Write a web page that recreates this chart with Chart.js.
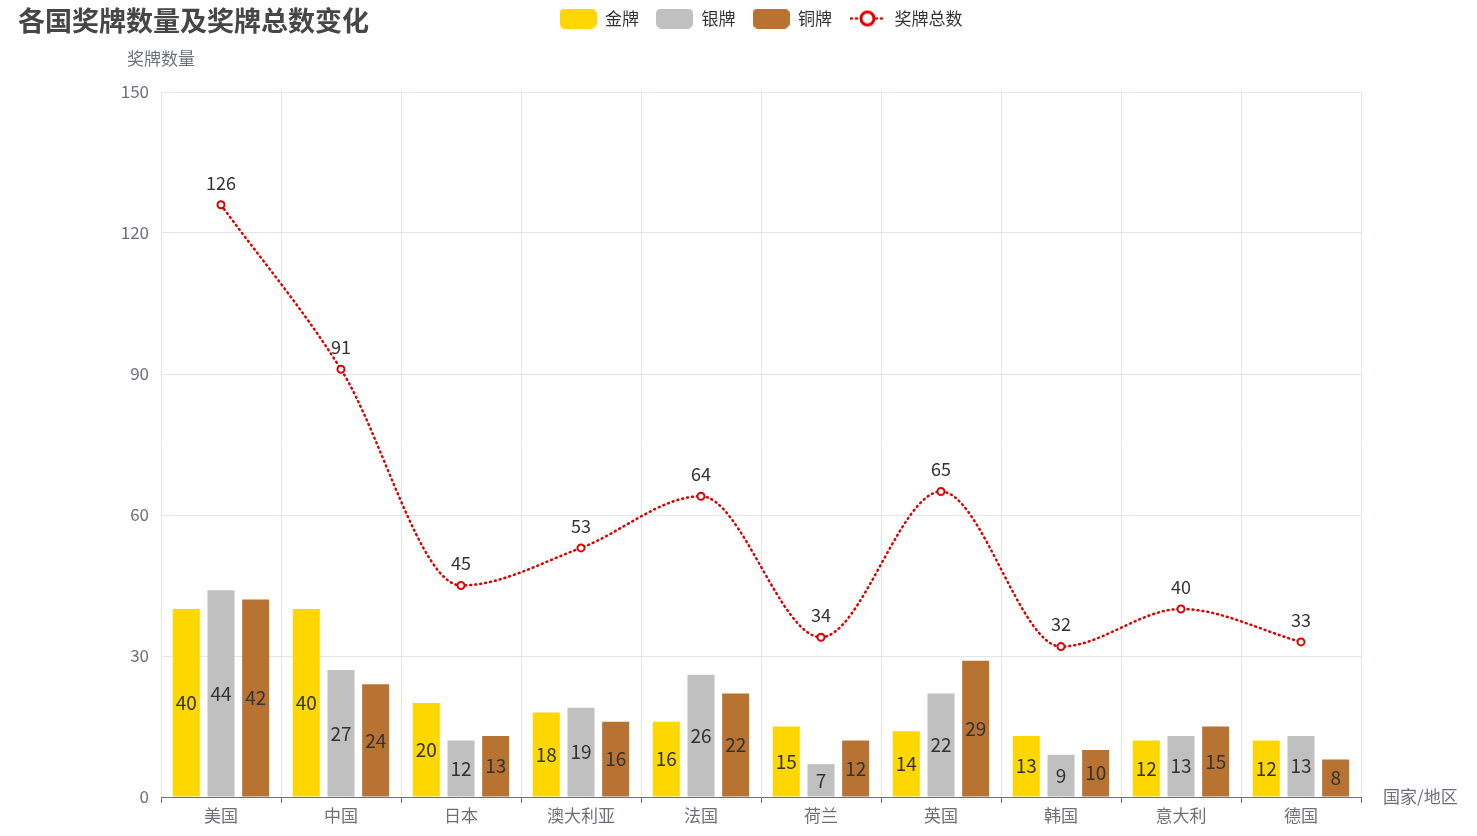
<!DOCTYPE html>
<html>
<head>
<meta charset="utf-8">
<script src="https://cdn.jsdelivr.net/npm/chart.js@4.4.1/dist/chart.umd.min.js"></script>
<style>
  html, body { margin: 0; padding: 0; background: #fff; }
  #wrap { width: 1477px; height: 836px; }
</style>
</head>
<body>
<div id="wrap"><canvas id="medalChart" width="1477" height="836"></canvas></div>
<script>
// 数据
const countries = ['美国', '中国', '日本', '澳大利亚', '法国', '荷兰', '英国', '韩国', '意大利', '德国'];
const goldMedals = [40, 40, 20, 18, 16, 15, 14, 13, 12, 12];
const silverMedals = [44, 27, 12, 19, 26, 7, 22, 9, 13, 13];
const bronzeMedals = [42, 24, 13, 16, 22, 12, 29, 10, 15, 8];
const totalMedals = [126, 91, 45, 53, 64, 34, 65, 32, 40, 33];
const yMax = 150;
const yStep = 30;

const FONT = '"Noto Sans CJK SC", "Noto Sans", sans-serif';
const GOLD = '#FFD700';
const SILVER = '#C0C0C0';
const BRONZE = '#B87333';
const RED = '#DD0000';
const AXIS_GRAY = '#6E7079';

// 图例小图标
function swatch(color) {
    const c = document.createElement('canvas');
    c.width = 37; c.height = 20;
    const g = c.getContext('2d');
    g.fillStyle = color;
    g.beginPath();
    g.roundRect(0, 0, 37, 20, 5);
    g.fill();
    return c;
}

function lineIcon() {
    const c = document.createElement('canvas');
    c.width = 37; c.height = 20;
    const g = c.getContext('2d');
    g.strokeStyle = RED;
    g.lineWidth = 2.5;
    g.lineCap = 'round';
    g.setLineDash([1, 4]);
    g.beginPath();
    g.moveTo(2, 10); g.lineTo(35, 10);
    g.stroke();
    g.setLineDash([]);
    g.fillStyle = '#fff';
    g.lineWidth = 3;
    g.beginPath();
    g.arc(18.5, 10, 6.5, 0, Math.PI * 2);
    g.fill(); g.stroke();
    return c;
}

const legendIcons = [swatch(GOLD), swatch(SILVER), swatch(BRONZE), lineIcon()];

// 数值标签和坐标轴名称
const labelPlugin = {
    id: 'medalLabels',
    afterLayout(chart) {
        // 图例放到最上面，和标题同一行
        const lg = chart.legend;
        const h = lg.bottom - lg.top;
        lg.top = -7;
        lg.bottom = lg.top + h;
    },
    afterDatasetsDraw(chart) {
        const ctx = chart.ctx;
        ctx.save();
        ctx.fillStyle = '#333';
        ctx.textAlign = 'center';
        ctx.textBaseline = 'middle';
        chart.data.datasets.forEach((ds, i) => {
            const meta = chart.getDatasetMeta(i);
            meta.data.forEach((el, j) => {
                const v = ds.data[j];
                if (ds.type === 'line') {
                    ctx.font = '18px ' + FONT;
                    ctx.fillText(v, el.x, el.y - 22);
                } else {
                    ctx.font = '19px ' + FONT;
                    ctx.fillText(v, el.x, (el.y + el.base) / 2);
                }
            });
        });
        ctx.restore();
    },
    afterDraw(chart) {
        const ctx = chart.ctx;
        const area = chart.chartArea;
        ctx.save();
        ctx.fillStyle = '#464646';
        ctx.font = 'bold 27px ' + FONT;
        ctx.textAlign = 'left';
        ctx.textBaseline = 'middle';
        ctx.fillText('各国奖牌数量及奖牌总数变化', 18, 21);

        ctx.fillStyle = AXIS_GRAY;
        ctx.font = '17px ' + FONT;
        ctx.textAlign = 'center';
        ctx.fillText('奖牌数量', area.left, 59);
        ctx.textAlign = 'left';
        ctx.fillText('国家/地区', area.right + 22, area.bottom);
        ctx.restore();
    }
};

const ctx = document.getElementById('medalChart').getContext('2d');
window.medalChart = new Chart(ctx, {
    data: {
        labels: countries,
        datasets: [
            {
                type: 'line',
                label: '奖牌总数',
                data: totalMedals,
                order: 0,
                borderColor: RED,
                borderWidth: 2.5,
                borderDash: [1, 4],
                borderCapStyle: 'round',
                cubicInterpolationMode: 'monotone',
                fill: false,
                pointRadius: 3.5,
                pointBorderWidth: 2,
                pointBackgroundColor: '#fff',
                pointBorderColor: RED
            },
            { type: 'bar', label: '金牌', data: goldMedals, backgroundColor: GOLD, order: 1 },
            { type: 'bar', label: '银牌', data: silverMedals, backgroundColor: SILVER, order: 1 },
            { type: 'bar', label: '铜牌', data: bronzeMedals, backgroundColor: BRONZE, order: 1 }
        ]
    },
    options: {
        responsive: false,
        animation: false,
        devicePixelRatio: 1,
        datasets: {
            bar: { categoryPercentage: 0.867, barPercentage: 0.78 }
        },
        layout: { padding: { left: 0, right: 116, top: 0, bottom: 0 } },
        plugins: {
            tooltip: { enabled: false },
            title: { display: false },
            legend: {
                display: true,
                position: 'top',
                fullSize: false,
                labels: {
                    usePointStyle: true,
                    pointStyleWidth: 37,
                    padding: 17,
                    color: '#333',
                    font: { family: FONT, size: 17 },
                    generateLabels(chart) {
                        const order = [1, 2, 3, 0];
                        return order.map((di, k) => ({
                            text: chart.data.datasets[di].label,
                            datasetIndex: di,
                            pointStyle: legendIcons[k],
                            fontColor: '#333',
                            hidden: false,
                            lineWidth: 0
                        }));
                    }
                }
            }
        },
        scales: {
            x: {
                offset: true,
                grid: {
                    offset: true,
                    color: '#E0E6F1',
                    tickColor: AXIS_GRAY,
                    tickLength: 6,
                    drawTicks: true
                },
                border: { color: AXIS_GRAY, width: 1 },
                ticks: { color: AXIS_GRAY, font: { family: FONT, size: 17 }, padding: 2 },
                afterFit(scale) { scale.height = 39; }
            },
            y: {
                min: 0,
                max: yMax,
                grid: { color: '#E0E6F1', drawTicks: false },
                border: { display: false },
                ticks: {
                    stepSize: yStep,
                    color: AXIS_GRAY,
                    padding: 12,
                    font: { family: FONT, size: 17 }
                },
                afterFit(scale) {
                    scale.width = 161;
                    scale.paddingTop = 92;
                }
            }
        }
    },
    plugins: [labelPlugin]
});
</script>
</body>
</html>
